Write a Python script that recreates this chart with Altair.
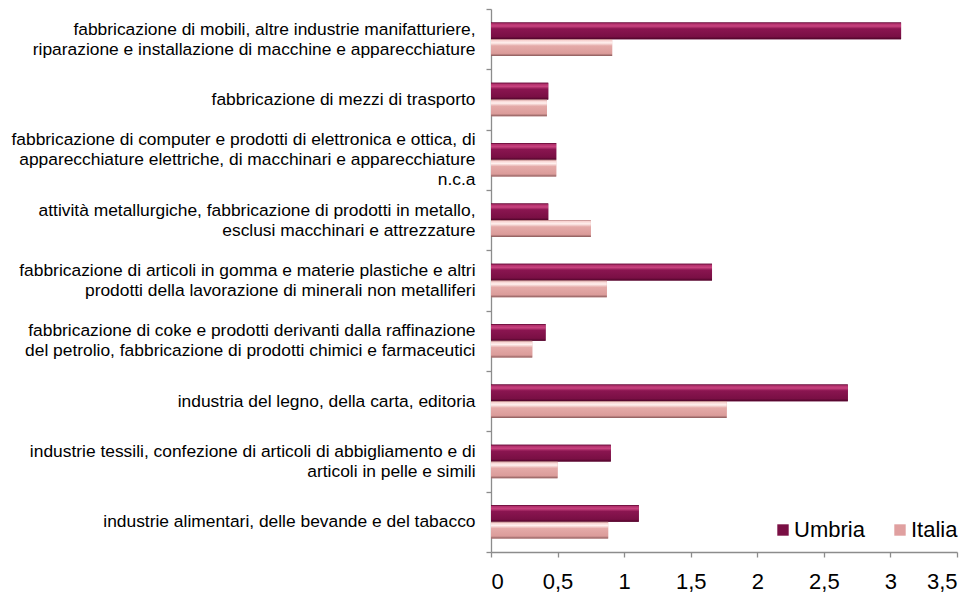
import altair as alt
import pandas as pd

categories = [
    "fabbricazione di mobili, altre industrie manifatturiere,\nriparazione e installazione di macchine e apparecchiature",
    "fabbricazione di mezzi di trasporto",
    "fabbricazione di computer e prodotti di elettronica e ottica, di\napparecchiature elettriche, di macchinari e apparecchiature\nn.c.a",
    "attività metallurgiche, fabbricazione di prodotti in metallo,\nesclusi macchinari e attrezzature",
    "fabbricazione di articoli in gomma e materie plastiche e altri\nprodotti della lavorazione di minerali non metalliferi",
    "fabbricazione di coke e prodotti derivanti dalla raffinazione\ndel petrolio, fabbricazione di prodotti chimici e farmaceutici",
    "industria del legno, della carta, editoria",
    "industrie tessili, confezione di articoli di abbigliamento e di\narticoli in pelle e simili",
    "industrie alimentari, delle bevande e del tabacco",
]
umbria = [3.08, 0.43, 0.49, 0.43, 1.66, 0.41, 2.68, 0.90, 1.11]
italia = [0.91, 0.42, 0.49, 0.75, 0.87, 0.31, 1.77, 0.50, 0.88]
series = ["Umbria", "Italia"]
x_ticks = [0, 0.5, 1, 1.5, 2, 2.5, 3, 3.5]

# Arial / Liberation Sans advance widths (1/1000 em) used to centre the lines
# of each multi-line label inside its right-aligned block.
W = {c: 556 for c in "abdeghnopqu"}
W.update({"c": 500, "k": 500, "s": 500, "v": 500, "x": 500, "y": 500, "z": 500,
          "f": 278, "t": 278, "i": 222, "j": 222, "l": 222, "m": 833, "r": 333,
          "w": 722, "à": 556, ",": 278, ".": 278, " ": 278})


def width(s):
    return sum(W.get(ch, 556) for ch in s)


def centred(label):
    lines = label.split("\n")
    mx = max(width(l) for l in lines)
    out = []
    for l in lines:
        n = int(round((mx - width(l)) / 2 / 278))
        out.append(l + "\u00a0" * n)
    return "|".join(out)


display = [centred(c) for c in categories]

rows = []
for d, u, it in zip(display, umbria, italia):
    rows.append({"cat": d, "serie": "Umbria", "val": u})
    rows.append({"cat": d, "serie": "Italia", "val": it})
df = pd.DataFrame(rows)

FONT = "Liberation Sans"
AX = "#8c8c8c"
LH = 20

x_enc = alt.X("val:Q", scale=alt.Scale(domain=[0, 3.5], nice=False),
              axis=alt.Axis(values=x_ticks, title=None, grid=False,
                            labelExpr="replace(toString(datum.value), '.', ',')",
                            labelFontSize=22, labelFont=FONT, labelColor="black",
                            domainColor=AX, tickColor=AX, domainWidth=1.3,
                            tickWidth=1.3, tickSize=5, labelPadding=14))
y_enc = alt.Y("cat:N", sort=display, scale=alt.Scale(paddingInner=0, paddingOuter=0),
              axis=alt.Axis(title=None, labelExpr="split(datum.label, '|')",
                            labelFontSize=17.4, labelFont=FONT, labelColor="black",
                            labelAlign="right", labelBaseline="middle",
                            labelLineHeight=LH, labelLimit=900, labelPadding=11,
                            labelOffset={"condition": [
                                {"test": "length(split(datum.label, '|')) == 3", "value": -LH},
                                {"test": "length(split(datum.label, '|')) == 2", "value": -LH / 2},
                            ], "value": 0},
                            tickBand="extent", tickSize=5, tickColor=AX,
                            domainColor=AX, domainWidth=1.3, tickWidth=1.3))
yoff = alt.YOffset("serie:N", sort=series,
                   scale=alt.Scale(domain=series, paddingOuter=0.8, paddingInner=0))

base = alt.Chart(df).mark_bar().encode(
    x=x_enc, y=y_enc, yOffset=yoff,
    color=alt.Color("serie:N", sort=series,
                    scale=alt.Scale(domain=series, range=["#7a0f44", "#e0a0a0"]),
                    legend=alt.Legend(title=None, orient="none", direction="horizontal",
                                      legendX=281, legendY=510, symbolType="square",
                                      symbolSize=130, symbolStrokeWidth=0,
                                      labelFontSize=22, labelFont=FONT, labelColor="black",
                                      columnPadding=24, labelOffset=0)),
)

grad_u = alt.Gradient(gradient="linear", x1=0, x2=0, y1=0, y2=1, stops=[
    alt.GradientStop(offset=0, color="#5a0630"),
    alt.GradientStop(offset=0.08, color="#b2306c"),
    alt.GradientStop(offset=0.22, color="#c8437f"),
    alt.GradientStop(offset=0.38, color="#8a1550"),
    alt.GradientStop(offset=0.85, color="#790f44"),
    alt.GradientStop(offset=1, color="#4d0428"),
])
grad_i = alt.Gradient(gradient="linear", x1=0, x2=0, y1=0, y2=1, stops=[
    alt.GradientStop(offset=0, color="#b58080"),
    alt.GradientStop(offset=0.08, color="#f8d4d2"),
    alt.GradientStop(offset=0.22, color="#fff0ee"),
    alt.GradientStop(offset=0.4, color="#e4aaa8"),
    alt.GradientStop(offset=0.85, color="#db9c9a"),
    alt.GradientStop(offset=1, color="#8a5a5a"),
])

over_u = alt.Chart(df).transform_filter(alt.datum.serie == "Umbria").mark_bar(
    fill=grad_u).encode(x=x_enc, y=y_enc, yOffset=yoff)
over_i = alt.Chart(df).transform_filter(alt.datum.serie == "Italia").mark_bar(
    fill=grad_i).encode(x=x_enc, y=y_enc, yOffset=yoff)

chart = alt.layer(base, over_u, over_i).properties(
    width=466, height=543,
    autosize=alt.AutoSizeParams(type="none"),
    padding={"left": 483, "top": 1, "right": 8, "bottom": 42},
    background="white",
).configure_view(stroke=None)

chart.save("out.html", embed_options={"renderer": "svg", "actions": False})
